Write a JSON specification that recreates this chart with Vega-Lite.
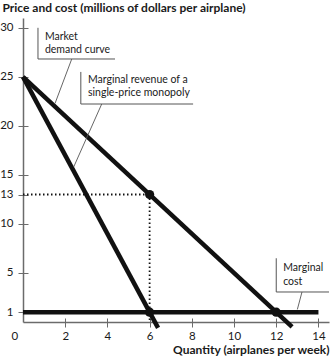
{
  "$schema": "https://vega.github.io/schema/vega-lite/v6.json",
  "width": 306,
  "height": 304,
  "autosize": {"type": "none"},
  "padding": {"left": 23, "top": 18, "right": 1, "bottom": 35},
  "config": {
    "view": {"stroke": null},
    "font": "Lato",
    "axis": {
      "grid": false,
      "domainColor": "#6b6b6b",
      "domainWidth": 1.5,
      "tickColor": "#6b6b6b",
      "tickWidth": 1,
      "labelColor": "#1a1a1a",
      "labelFont": "Lato",
      "labelFontSize": 11.5,
      "titleColor": "#1a1a1a",
      "titleFont": "Lato",
      "titleFontSize": 12,
      "titleFontWeight": "bold"
    }
  },
  "datasets": {
    "guides": [
      {"g": "price", "q": 0, "p": 13, "o": 0},
      {"g": "price", "q": 6, "p": 13, "o": 1},
      {"g": "qty", "q": 6, "p": 13, "o": 0},
      {"g": "qty", "q": 6, "p": 0, "o": 1}
    ],
    "curves": [
      {"curve": "Market demand", "q": 0, "p": 25, "o": 0},
      {"curve": "Market demand", "q": 12.75, "p": -0.5, "o": 1},
      {"curve": "Marginal revenue", "q": 0, "p": 25, "o": 0},
      {"curve": "Marginal revenue", "q": 6.4, "p": -0.6, "o": 1},
      {"curve": "Marginal cost", "q": 0, "p": 1, "o": 0},
      {"curve": "Marginal cost", "q": 14, "p": 1, "o": 1}
    ],
    "points": [
      {"q": 6, "p": 13},
      {"q": 6, "p": 1},
      {"q": 12, "p": 1}
    ],
    "brackets": [
      {"b": "demand", "q": 0.71, "p": 30.0, "o": 0},
      {"b": "demand", "q": 0.71, "p": 26.82, "o": 1},
      {"b": "demand", "q": 4.36, "p": 26.82, "o": 2},
      {"b": "mr", "q": 2.74, "p": 25.5, "o": 0},
      {"b": "mr", "q": 2.74, "p": 22.23, "o": 1},
      {"b": "mr", "q": 8.06, "p": 22.23, "o": 2},
      {"b": "mc", "q": 12.0, "p": 6.5, "o": 0},
      {"b": "mc", "q": 12.0, "p": 3.06, "o": 1},
      {"b": "mc", "q": 14.5, "p": 3.06, "o": 2}
    ],
    "leaders": [
      {"b": "demand", "q": 2.31, "p": 26.82, "o": 0},
      {"b": "demand", "q": 1.52, "p": 22.3, "o": 1},
      {"b": "mr", "q": 3.73, "p": 22.23, "o": 0},
      {"b": "mr", "q": 2.4, "p": 15.8, "o": 1},
      {"b": "mc", "q": 13.22, "p": 3.06, "o": 0},
      {"b": "mc", "q": 13.0, "p": 1.28, "o": 1}
    ],
    "labels": [
      {"text": "Market", "q": 1.04, "p": 28.76},
      {"text": "demand curve", "q": 1.04, "p": 27.43},
      {"text": "Marginal revenue of a", "q": 3.08, "p": 24.37},
      {"text": "single-price monopoly", "q": 3.08, "p": 23.05},
      {"text": "Marginal", "q": 12.33, "p": 5.2},
      {"text": "cost", "q": 12.33, "p": 3.77}
    ]
  },
  "layer": [
    {
      "data": {"name": "guides"},
      "mark": {"type": "line", "color": "#111", "strokeWidth": 1.8, "strokeDash": [1.5, 2.5]},
      "encoding": {
        "x": {
          "field": "q", "type": "quantitative",
          "scale": {"domain": [0, 14.5], "nice": false},
          "axis": {
            "orient": "bottom",
            "values": [0, 2, 4, 6, 8, 10, 12, 14],
            "tickSize": 5,
            "labelPadding": 3,
            "tickOpacity": {"condition": {"test": "datum.value == 0", "value": 0}, "value": 1},
            "labelOffset": {"condition": {"test": "datum.value == 0", "value": -12}, "value": 0},
            "title": "Quantity (airplanes per week)",
            "titleAlign": "right",
            "titleBaseline": "alphabetic",
            "titleX": 306,
            "titleY": 31
          }
        },
        "y": {
          "field": "p", "type": "quantitative",
          "scale": {"domain": [0, 31], "nice": false},
          "axis": {
            "orient": "left",
            "values": [1, 5, 10, 13, 15, 20, 25, 30],
            "tickSize": 5,
            "labelPadding": 5,
            "title": "Price and cost (millions of dollars per airplane)",
            "titleAngle": 0,
            "titleAlign": "left",
            "titleBaseline": "top",
            "titleX": -21,
            "titleY": -16
          }
        },
        "detail": {"field": "g"},
        "order": {"field": "o"}
      }
    },
    {
      "data": {"name": "curves"},
      "mark": {"type": "line", "color": "#111", "strokeWidth": 4.5, "strokeCap": "butt"},
      "encoding": {
        "x": {
          "field": "q", "type": "quantitative",
          "axis": {"orient": "bottom", "values": [2, 4, 6, 8, 10, 12, 14], "tickSize": -4, "domain": false, "labels": false, "title": null}
        },
        "y": {
          "field": "p", "type": "quantitative",
          "axis": {"orient": "left", "values": [1, 5, 10, 13, 15, 20, 25, 30], "tickSize": -5, "domain": false, "labels": false, "title": null}
        },
        "detail": {"field": "curve"},
        "order": {"field": "o"}
      }
    },
    {
      "data": {"name": "points"},
      "mark": {"type": "circle", "color": "#111", "opacity": 1, "size": 85},
      "encoding": {
        "x": {"field": "q", "type": "quantitative", "axis": null},
        "y": {"field": "p", "type": "quantitative", "axis": null}
      }
    },
    {
      "data": {"name": "brackets"},
      "mark": {"type": "line", "color": "#555", "strokeWidth": 1},
      "encoding": {
        "x": {"field": "q", "type": "quantitative", "axis": null},
        "y": {"field": "p", "type": "quantitative", "axis": null},
        "detail": {"field": "b"},
        "order": {"field": "o"}
      }
    },
    {
      "data": {"name": "leaders"},
      "mark": {"type": "line", "color": "#555", "strokeWidth": 0.9},
      "encoding": {
        "x": {"field": "q", "type": "quantitative", "axis": null},
        "y": {"field": "p", "type": "quantitative", "axis": null},
        "detail": {"field": "b"},
        "order": {"field": "o"}
      }
    },
    {
      "data": {"name": "labels"},
      "mark": {"type": "text", "align": "left", "baseline": "alphabetic", "font": "Lato", "fontSize": 10.5, "color": "#1a1a1a"},
      "encoding": {
        "x": {"field": "q", "type": "quantitative", "axis": null},
        "y": {"field": "p", "type": "quantitative", "axis": null},
        "text": {"field": "text"}
      }
    }
  ],
  "resolve": {"axis": {"x": "independent", "y": "independent"}}
}
